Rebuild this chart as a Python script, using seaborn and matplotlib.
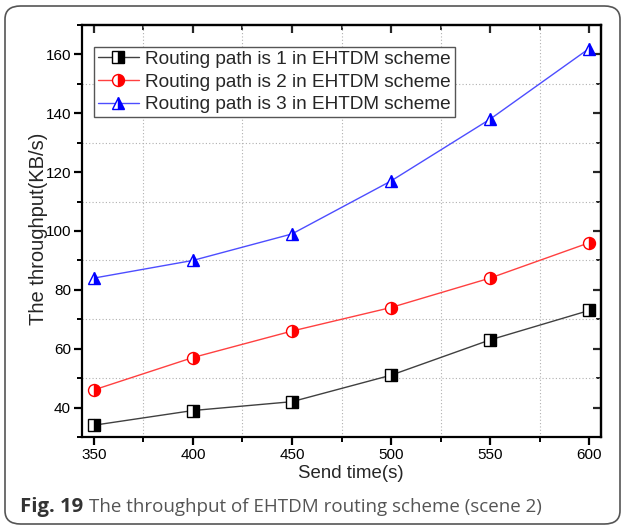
import matplotlib
matplotlib.use("Agg")
import matplotlib.pyplot as plt
import seaborn as sns
import pandas as pd
from matplotlib.patches import FancyBboxPatch
from matplotlib.ticker import MultipleLocator

send_time = [350, 400, 450, 500, 550, 600]
path1 = [34, 39, 42, 51, 63, 73]
path2 = [46, 57, 66, 74, 84, 96]
path3 = [84, 90, 99, 117, 138, 162]
labels = ["Routing path is 1 in EHTDM scheme",
          "Routing path is 2 in EHTDM scheme",
          "Routing path is 3 in EHTDM scheme"]

sns.set_theme(style="white")
plt.rcParams['font.family'] = ['Liberation Sans', 'DejaVu Sans']

fig = plt.figure(figsize=(6.24, 5.27), dpi=100)
ax = fig.add_axes([82/624, 1-437/527, (601-82)/624, (437-25)/527])

styles = [
    (path1, "#000000", "#404040", "s", 8.0),
    (path2, "#ff0000", "#ff4040", "o", 8.6),
    (path3, "#0000ff", "#4d4dff", "^", 9.2),
]
handles = []
for (vals, mc, lc, mk, ms), lab in zip(styles, labels):
    df = pd.DataFrame({"x": send_time, "y": vals})
    sns.lineplot(data=df, x="x", y="y", ax=ax, color=lc, lw=1.0,
                 marker=mk, markersize=ms, fillstyle="right",
                 markerfacecolor=mc, markerfacecoloralt="white",
                 markeredgecolor=mc, markeredgewidth=1.0, label=lab)
    handles.append(ax.lines[-1])

ax.set_xlim(344, 606)
ax.set_ylim(30, 170)
ax.xaxis.set_major_locator(MultipleLocator(50))
ax.xaxis.set_minor_locator(MultipleLocator(25))
ax.yaxis.set_major_locator(MultipleLocator(20))
ax.yaxis.set_minor_locator(MultipleLocator(10))
ax.grid(visible=False, which="major")
ax.grid(visible=True, which="minor", color="#b0b0b0", linestyle=(0, (1, 2)), linewidth=0.8)
ax.set_axisbelow(True)
for s in ax.spines.values():
    s.set_color("black")
    s.set_linewidth(1.6)
ax.tick_params(which="both", bottom=True, left=True, top=False, right=False,
               labelsize=11, colors="black")
ax.tick_params(axis="x", which="major", direction="out", length=6, width=1.6, pad=2)
ax.tick_params(axis="y", which="major", direction="out", length=6, width=1.6, pad=2)
ax.tick_params(which="minor", direction="out", length=3.5, width=1.4)
# mirrored ticks inward on top and right
ax2 = ax.secondary_xaxis("top")
ax2.xaxis.set_major_locator(MultipleLocator(50))
ax2.xaxis.set_minor_locator(MultipleLocator(25))
ax2.tick_params(which="major", direction="in", length=6, width=1.6, labeltop=False)
ax2.tick_params(which="minor", direction="in", length=3.5, width=1.4)
ax2.spines["top"].set_linewidth(1.6)
ax3 = ax.secondary_yaxis("right")
ax3.yaxis.set_major_locator(MultipleLocator(20))
ax3.yaxis.set_minor_locator(MultipleLocator(10))
ax3.tick_params(which="major", direction="in", length=6, width=1.6, labelright=False)
ax3.tick_params(which="minor", direction="in", length=3.5, width=1.4)
ax3.spines["right"].set_linewidth(1.6)

ax.set_xlabel("Send time(s)", fontsize=13.4)
ax.set_ylabel("The throughput(KB/s)", fontsize=14.5)
ax.xaxis.set_label_coords(0.518, -0.068)
ax.yaxis.set_label_coords(-0.066, 0.506)

leg = ax.legend(handles=handles, labels=labels, loc="upper left",
                bbox_to_anchor=(0.023, 0.947), fontsize=13.7, frameon=True,
                fancybox=False, edgecolor="#555555", framealpha=1,
                borderpad=0.2, labelspacing=0.28, handlelength=2.15,
                handletextpad=0.35, borderaxespad=0)
leg.get_frame().set_linewidth(1.0)

frame = FancyBboxPatch((5/624, 3/527), 615/624, 518/527,
                       boxstyle="round,pad=0,rounding_size=0.025",
                       transform=fig.transFigure, fill=False,
                       edgecolor="#555555", linewidth=1.2)
fig.patches.append(frame)

fig.text(20/624, 1-507/527, "Fig. 19", fontsize=14.6, fontweight="bold",
         color="#333333", family=["Open Sans", "DejaVu Sans"], va="center", ha="left")
fig.text(89/624, 1-507/527, "The throughput of EHTDM routing scheme (scene 2)",
         fontsize=13.5, color="#555555", family=["Open Sans", "DejaVu Sans"],
         va="center", ha="left")

fig.savefig("out.png", dpi=100)
